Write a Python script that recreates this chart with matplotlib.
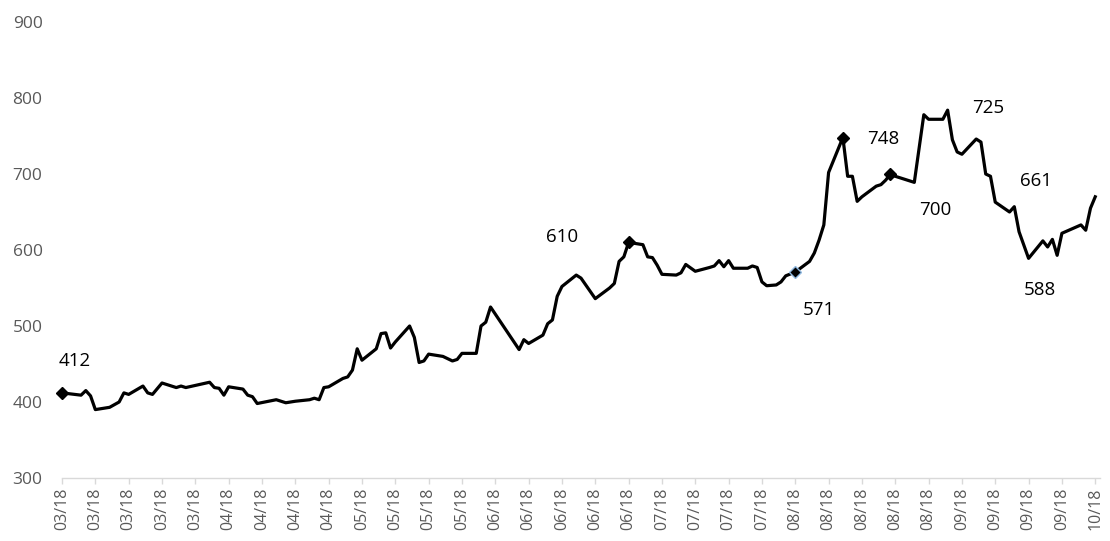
import numpy as np
import pandas as pd
import matplotlib
matplotlib.use("Agg")
import matplotlib.pyplot as plt

plt.rcParams['font.family'] = ['Open Sans', 'DejaVu Sans']

# daily price, days counted from the first date
start = pd.Timestamp('2018-03-02')
days = [0, 4, 5, 6, 7, 10, 12, 13, 14, 17, 18, 19, 21, 24, 25, 26, 31, 32, 33, 34, 35,
        38, 39, 40, 41, 45, 47, 49, 52, 53, 54, 55, 56, 59, 60, 61, 62, 63, 66, 67, 68,
        69, 70, 73, 74, 75, 76, 77, 80, 82, 83, 84, 87, 88, 89, 90, 96, 97, 98, 101, 102,
        103, 104, 105, 108, 109, 110, 112, 115, 116, 117, 118, 119, 120, 122, 123, 124,
        125, 126, 129, 130, 131, 133, 136, 137, 138, 139, 140, 141, 144, 145, 146, 147,
        148, 150, 151, 152, 154, 157, 158, 159, 160, 161, 164, 165, 166, 167, 168, 171,
        172, 173, 174, 175, 179, 181, 182, 185, 186, 187, 188, 189, 192, 193, 194, 195,
        196, 199, 200, 201, 203, 206, 207, 208, 209, 210, 214, 215, 216, 217]
price = [412, 409, 415, 408, 390, 393, 400, 412, 410, 421, 412, 410, 425, 419, 421, 419,
         426, 419, 418, 409, 420, 417, 409, 407, 398, 403, 399, 401, 403, 405, 403, 419,
         420, 431, 433, 442, 470, 455, 470, 490, 491, 471, 479, 500, 485, 452, 454, 463,
         460, 454, 456, 464, 464, 500, 505, 525, 469, 482, 477, 488, 503, 508, 539, 552,
         567, 563, 554, 536, 550, 556, 585, 591, 610, 609, 607, 591, 590, 580, 568, 567,
         570, 581, 572, 577, 579, 586, 578, 586, 576, 576, 579, 577, 558, 553, 554, 558,
         566, 571, 585, 596, 613, 633, 702, 748, 697, 697, 664, 670, 684, 686, 692, 700,
         697, 689, 778, 772, 772, 784, 745, 729, 726, 746, 742, 700, 697, 663, 650, 657,
         624, 589, 612, 604, 614, 593, 622, 633, 626, 655, 670]

# labelled points: day, label text, offset of the label (points)
label_days = [0, 119, 154, 164, 174, 189, 196, 203]
label_text = ['412', '610', '571', '748', '700', '725', '661', '588']
label_offset = [(9, 23), (-48, 4), (17, -27), (29, -1), (32, -26), (19, 33), (29, 15), (8, -23)]
marker_days = [0, 119, 164, 174]
blue_marker_day = 154

dates = start + pd.to_timedelta(days, unit='D')
lookup = dict(zip(days, price))

fig = plt.figure(figsize=(11.1, 5.41), dpi=100)
ax = fig.add_axes([62 / 1110, 1 - 478 / 541, 1038 / 1110, 456 / 541])

ax.plot(dates, price, color='black', lw=2.3, solid_joinstyle='round', zorder=3)

md = start + pd.to_timedelta(marker_days, unit='D')
ax.plot(md, [lookup[d] for d in marker_days], 'D', color='black', ms=6.5, zorder=4,
        clip_on=False)
ax.plot([start + pd.Timedelta(days=blue_marker_day)], [lookup[blue_marker_day]], 'D',
        color='black', mec='#8fb8e0', mew=1.0, ms=6.5, zorder=4)

for d, t, off in zip(label_days, label_text, label_offset):
    ax.annotate(t, (start + pd.Timedelta(days=d), lookup[d]), xytext=off,
                textcoords='offset points', ha='center', va='center',
                fontsize=13.5, color='black')

ticks = start + pd.to_timedelta(np.arange(0, 218, 7), unit='D')
ax.set_xticks(ticks)
ax.set_xticklabels([t.strftime('%m/%y') for t in ticks], rotation=90,
                   fontsize=11.5, color='#595959')
ax.set_xlim(start, start + pd.Timedelta(days=218))
ax.set_ylim(300, 900)
ax.set_yticks(range(300, 901, 100))
ax.tick_params(axis='y', length=0, pad=14, labelsize=12.5, labelcolor='#595959')
ax.tick_params(axis='x', length=4, width=1, color='#d9d9d9', pad=3)

for s in ['left', 'right', 'top']:
    ax.spines[s].set_visible(False)
ax.spines['bottom'].set_color('#d9d9d9')
ax.spines['bottom'].set_linewidth(1)

fig.savefig('out.png', dpi=100)
